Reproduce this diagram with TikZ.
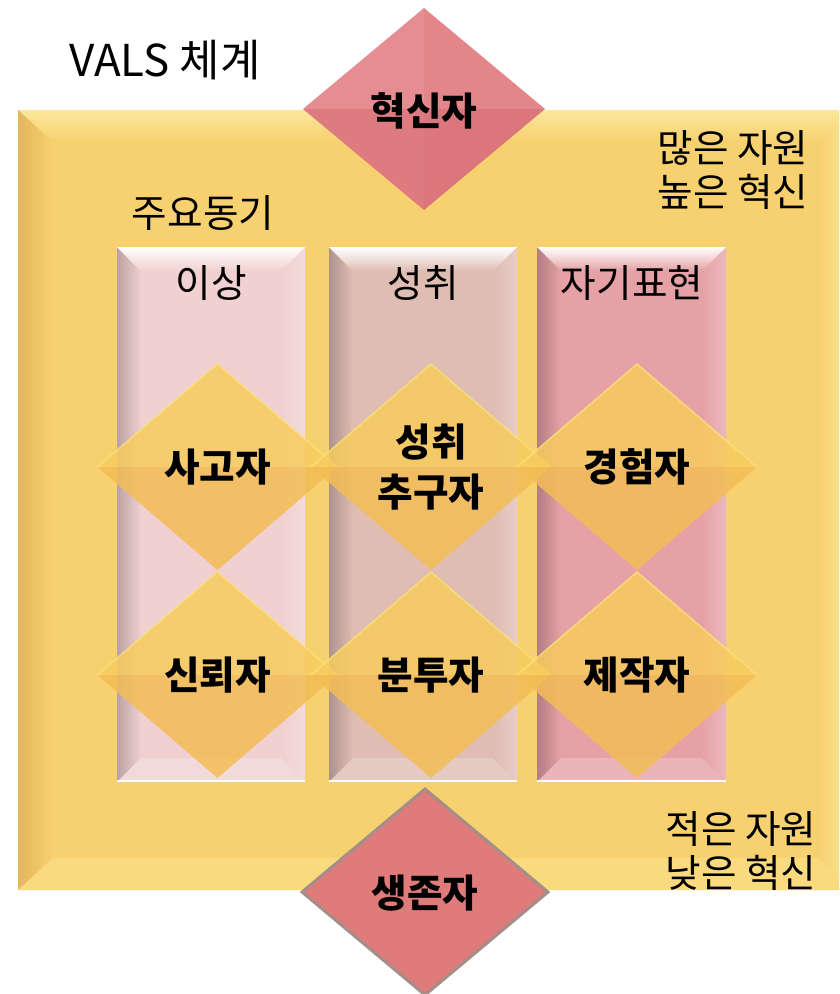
\documentclass[tikz,border=0pt]{standalone}
\usepackage{fontspec}
\setmainfont{Noto Sans CJK KR}
\usetikzlibrary{calc}
\definecolor{frameY}{HTML}{F7D070}
\definecolor{frameTop}{HTML}{FBE89A}
\definecolor{frameLeft}{HTML}{E4B75A}
\definecolor{frameBot}{HTML}{F9DA7E}
\definecolor{colA}{HTML}{F0D0D0}
\definecolor{colB}{HTML}{DFBDB3}
\definecolor{colC}{HTML}{E5A1A6}
\definecolor{goldTop}{HTML}{F7CC5E}
\definecolor{goldBot}{HTML}{F3BD55}
\definecolor{goldEdge}{HTML}{FBE27A}
\definecolor{roseA}{HTML}{E68D91}
\definecolor{roseB}{HTML}{E3868A}
\definecolor{roseC}{HTML}{DE7B80}
\definecolor{roseD}{HTML}{DB777C}
\definecolor{survFill}{HTML}{E07B7B}
\definecolor{survEdge}{HTML}{A38F88}
\tikzset{
  plain/.style={font=\fontsize{22pt}{25pt}\selectfont, align=center, inner sep=0pt},
  boldlab/.style={font=\fontsize{22pt}{28pt}\selectfont\bfseries, align=center, inner sep=0pt},
}
\begin{document}
\begin{tikzpicture}[x=0.02cm,y=-0.02cm]
\useasboundingbox (0,0) rectangle (839,994);
\clip (0,0) rectangle (839,994);

% ---------- yellow frame ----------
\fill[frameY] (18,110) rectangle (853,890);
\shade[top color=frameTop, bottom color=frameY] (18,110) -- (853,110) -- (818,142) -- (53,142) -- cycle;
\shade[left color=frameLeft, right color=frameY] (18,110) -- (53,142) -- (53,858) -- (18,890) -- cycle;
\fill[frameBot] (18,890) -- (53,858) -- (818,858) -- (853,890) -- cycle;
\shade[left color=frameY, right color=frameTop] (853,110) -- (818,142) -- (818,858) -- (853,890) -- cycle;

% ---------- columns ----------
\foreach \a/\b/\c in {117/305/colA, 329/517/colB, 537/726/colC}{
  \fill[\c] (\a,247) rectangle (\b,782);
  \shade[left color=\c!78!black, right color=\c] (\a,247) -- (\a+24,271) -- (\a+24,758) -- (\a,782) -- cycle;
  \shade[left color=\c, right color=\c!75!white] (\b,247) -- (\b-24,271) -- (\b-24,758) -- (\b,782) -- cycle;
  \shade[top color=white, bottom color=\c] (\a,247) -- (\b,247) -- (\b-24,271) -- (\a+24,271) -- cycle;
  \fill[\c!80!white] (\a,782) -- (\a+24,758) -- (\b-24,758) -- (\b,782) -- cycle;
  \draw[white, line width=1.2pt] (\a,781) -- (\b,781);
}

% ---------- column headers ----------
\node[plain] (hA) at (211,283) {이상};
\node[plain] (hB) at (423,283) {성취};
\node[plain] (hC) at (632,283) {자기표현};

% ---------- inner diamonds ----------
\foreach \cx/\cy in {217.5/467, 431/467, 637/467, 217.5/675, 431/675, 637/675}{
  \fill[goldBot, opacity=0.85] (\cx-120,\cy) -- (\cx,\cy+103) -- (\cx+120,\cy) -- cycle;
  \fill[goldTop, opacity=0.85] (\cx-120,\cy) -- (\cx,\cy-103) -- (\cx+120,\cy) -- cycle;
  \draw[goldEdge, opacity=0.7, line width=1pt] (\cx-120,\cy) -- (\cx,\cy-103) -- (\cx+120,\cy);
}
\node[boldlab] (sago) at (217.5,467) {사고자};
\node[boldlab] (seongchwi) at (431,467) {성취\\추구자};
\node[boldlab] (gyeongheom) at (637,467) {경험자};
\node[boldlab] (sinroe) at (217.5,675) {신뢰자};
\node[boldlab] (buntu) at (431,675) {분투자};
\node[boldlab] (jejak) at (637,675) {제작자};

% ---------- top diamond ----------
\fill[roseA] (303,109) -- (424,8) -- (424,109) -- cycle;
\fill[roseB] (545,109) -- (424,8) -- (424,109) -- cycle;
\fill[roseC] (303,109) -- (424,210) -- (424,109) -- cycle;
\fill[roseD] (545,109) -- (424,210) -- (424,109) -- cycle;
\node[boldlab] (hyeoksin) at (424,111) {혁신자};

% ---------- bottom diamond ----------
\filldraw[fill=survFill, draw=survEdge, line width=1.7pt, line join=miter]
  (302,892) -- (425,789) -- (548,892) -- (425,995) -- cycle;
\node[boldlab] (saengjon) at (425,893) {생존자};

% ---------- labels ----------
\node[plain, font=\fontsize{25pt}{28pt}\selectfont] (title) at (165,60) {VALS 체계};
\node[plain] (motive) at (203,213) {주요동기};
\node[plain] (high) at (733,170) {많은 자원\\높은 혁신};
\node[plain] (low) at (741,851) {적은 자원\\낮은 혁신};
\end{tikzpicture}
\end{document}
